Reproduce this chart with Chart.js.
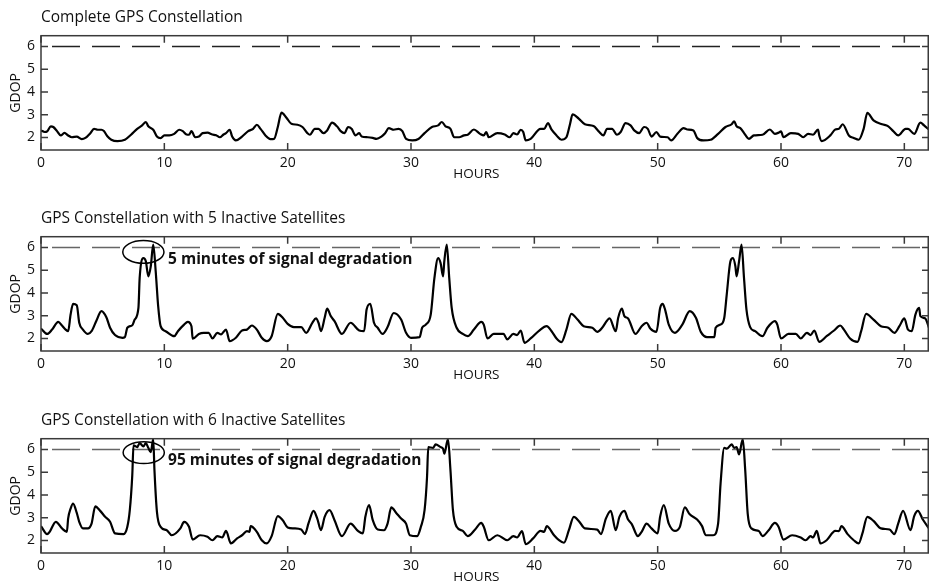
<!DOCTYPE html>
<html>
<head>
<meta charset="utf-8">
<title>GDOP</title>
<script src="https://cdn.jsdelivr.net/npm/chart.js@4.4.1/dist/chart.umd.min.js"></script>
<style>
    html, body { margin: 0; padding: 0; background: #fff; overflow: hidden; }
    body { width: 929px; height: 584px; position: relative; }
    canvas { position: absolute; left: 0; }
</style>
</head>
<body>
<canvas id="panel1" width="929" height="195" style="top:0px"></canvas>
<canvas id="panel2" width="929" height="195" style="top:201px"></canvas>
<canvas id="panel3" width="929" height="195" style="top:403px"></canvas>
<script>
// Axis ticks and threshold
const xTicks = [0, 10, 20, 30, 40, 50, 60, 70];
const yTicks = [2, 3, 4, 5, 6];
const threshold = 6;

// Complete constellation
const hours1 = [
    0, 0.3, 0.5, 0.8, 1.0, 1.3, 1.6, 1.9, 2.2, 2.5,
    2.9, 3.3, 3.6, 4.0, 4.3, 4.6, 4.9, 5.1, 5.4, 5.7,
    6.2, 6.8, 7.3, 7.8, 8.2, 8.5, 8.7, 9.1, 9.4, 9.7,
    10.0, 10.4, 10.8, 11.2, 11.5, 11.8, 12.0, 12.2, 12.5, 12.8,
    13.1, 13.5, 13.9, 14.2, 14.5, 14.8, 15.0, 15.3, 15.5, 15.8,
    16.3, 16.8, 17.2, 17.5, 17.8, 18.2, 18.6, 18.9, 19.2, 19.5,
    19.9, 20.3, 20.8, 21.2, 21.6, 21.8, 22.2, 22.5, 22.9, 23.2,
    23.6, 24.0, 24.3, 24.6, 24.9, 25.2, 25.5, 25.8, 26.0, 26.5,
    26.9, 27.2, 27.6, 27.9, 28.2, 28.6, 29.0, 29.3, 29.6, 30.1,
    30.6, 31.1, 31.7, 32.2, 32.5, 32.8, 33.2, 33.5, 33.9, 34.3,
    34.6, 35.1, 35.6, 35.9, 36.1, 36.3, 37.0, 37.6, 38.0, 38.3,
    38.6, 38.9, 39.1, 39.3, 39.7, 40.5, 40.8, 41.1, 41.4, 41.8,
    42.2, 42.6, 42.9, 43.1, 43.6, 44.1, 44.8, 45.2, 45.6, 45.9,
    46.3, 46.7, 47.0, 47.4, 47.8, 48.1, 48.5, 48.9, 49.2, 49.5,
    49.9, 50.2, 50.8, 51.1, 51.6, 52.1, 52.4, 52.9, 53.2, 53.7,
    54.3, 54.9, 55.5, 56.0, 56.2, 56.4, 56.7, 57.1, 57.4, 57.8,
    58.5, 59.1, 59.5, 59.8, 60.0, 60.2, 60.8, 61.4, 61.8, 62.2,
    62.6, 63.0, 63.1, 63.3, 64.0, 64.4, 64.7, 65.0, 65.5, 65.9,
    66.3, 66.7, 67.0, 67.5, 68.2, 68.7, 69.1, 69.5, 70.1, 70.3,
    70.8, 71.3, 71.6, 72.0
];
const gdop1 = [
    2.31, 2.24, 2.27, 2.49, 2.46, 2.28, 2.09, 2.20, 2.09, 2.01,
    2.04, 1.93, 1.98, 2.19, 2.38, 2.34, 2.34, 2.28, 2.04, 1.90,
    1.84, 1.90, 2.12, 2.38, 2.53, 2.68, 2.49, 2.34, 2.04, 1.97,
    2.09, 2.09, 2.16, 2.34, 2.28, 2.13, 2.12, 2.28, 2.01, 2.04,
    2.19, 2.21, 2.13, 2.10, 2.01, 2.13, 2.19, 2.34, 2.04, 1.87,
    2.04, 2.28, 2.38, 2.56, 2.38, 2.09, 1.93, 1.94, 2.46, 3.09,
    2.87, 2.60, 2.56, 2.46, 2.19, 2.12, 2.38, 2.38, 2.19, 2.31,
    2.65, 2.49, 2.28, 2.19, 2.46, 2.37, 2.09, 2.19, 2.04, 2.01,
    1.98, 1.94, 2.04, 2.19, 2.41, 2.34, 2.38, 2.28, 1.94, 1.87,
    1.93, 2.19, 2.46, 2.53, 2.68, 2.49, 2.38, 2.01, 2.01, 2.09,
    2.12, 2.35, 2.16, 2.09, 2.24, 2.01, 2.19, 2.13, 2.01, 2.19,
    2.13, 2.34, 2.24, 1.87, 1.94, 2.38, 2.38, 2.63, 2.34, 2.09,
    1.90, 2.01, 2.60, 3.02, 2.83, 2.58, 2.50, 2.28, 2.09, 2.38,
    2.38, 2.12, 2.24, 2.63, 2.53, 2.31, 2.19, 2.46, 2.38, 2.04,
    2.24, 2.04, 2.01, 1.87, 2.16, 2.41, 2.35, 2.31, 1.98, 1.87,
    1.90, 2.16, 2.46, 2.58, 2.71, 2.49, 2.41, 2.12, 1.94, 2.09,
    2.12, 2.35, 2.16, 2.21, 2.27, 2.01, 2.19, 2.16, 2.01, 2.16,
    2.12, 2.35, 2.09, 1.84, 2.09, 2.35, 2.38, 2.58, 2.09, 1.98,
    1.90, 2.38, 3.08, 2.75, 2.58, 2.49, 2.28, 2.09, 2.38, 2.38,
    2.16, 2.65, 2.53, 2.34
];

// 5 inactive satellites
const hours2 = [
    0, 0.5, 0.9, 1.4, 1.7, 2.0, 2.2, 2.4, 2.6, 2.9,
    3.1, 3.4, 3.8, 4.1, 4.5, 4.9, 5.3, 5.6, 6.0, 6.6,
    6.8, 7.0, 7.4, 7.6, 7.9, 8.0, 8.3, 8.5, 8.7, 8.9,
    9.1, 9.3, 9.5, 9.7, 10.1, 10.8, 11.1, 11.6, 11.9, 12.2,
    12.3, 12.8, 13.2, 13.6, 13.9, 14.3, 14.6, 15.0, 15.3, 15.8,
    16.3, 16.7, 17.1, 17.5, 17.9, 18.3, 18.7, 19.2, 19.6, 20.0,
    20.5, 21.1, 21.5, 22.0, 22.3, 22.5, 22.7, 23.0, 23.2, 23.5,
    23.8, 24.4, 25.1, 25.8, 26.2, 26.4, 26.7, 27.0, 27.3, 27.7,
    28.1, 28.6, 29.2, 29.6, 30.0, 30.7, 30.9, 31.2, 31.6, 31.9,
    32.2, 32.4, 32.6, 32.7, 32.9, 33.1, 33.3, 33.7, 34.2, 34.6,
    35.1, 35.7, 35.9, 36.2, 36.7, 37.5, 37.8, 38.3, 38.6, 38.9,
    39.2, 39.7, 40.4, 41.0, 41.4, 41.8, 42.2, 42.6, 43.0, 43.5,
    44.0, 44.7, 45.1, 45.5, 45.9, 46.1, 46.6, 46.8, 47.1, 47.3,
    47.6, 48.2, 48.7, 49.1, 49.4, 49.9, 50.2, 50.4, 50.6, 50.9,
    51.4, 52.0, 52.6, 53.1, 53.5, 54.0, 54.6, 54.7, 55.1, 55.4,
    55.6, 55.9, 56.1, 56.3, 56.4, 56.6, 56.8, 57.0, 57.2, 57.5,
    57.9, 58.5, 58.9, 59.5, 59.7, 60.0, 60.6, 61.2, 61.6, 62.1,
    62.4, 62.7, 63.1, 63.7, 64.3, 64.8, 65.1, 65.6, 66.2, 66.5,
    66.9, 67.5, 68.1, 68.7, 69.2, 69.6, 70.0, 70.3, 70.6, 70.9,
    71.2, 71.3, 71.7, 72.0
];
const gdop2 = [
    2.44, 2.20, 2.39, 2.73, 2.57, 2.39, 2.32, 3.05, 3.52, 3.46,
    2.69, 2.39, 2.20, 2.32, 2.79, 3.20, 2.93, 2.47, 2.15, 2.03,
    2.06, 2.47, 2.58, 2.83, 3.34, 4.66, 5.53, 5.39, 4.73, 5.17,
    6.12, 4.95, 3.42, 2.54, 2.32, 2.10, 2.32, 2.61, 2.73, 2.54,
    1.99, 2.20, 2.25, 2.25, 2.00, 2.25, 2.18, 2.39, 1.88, 2.03,
    2.35, 2.39, 2.57, 2.39, 2.03, 1.88, 2.10, 3.08, 2.91, 2.64,
    2.50, 2.50, 2.25, 2.69, 2.88, 2.69, 2.32, 2.91, 3.31, 2.98,
    2.76, 2.20, 2.69, 2.35, 2.32, 3.27, 3.52, 2.69, 2.47, 2.20,
    2.50, 3.12, 2.83, 2.25, 2.03, 2.06, 2.47, 2.61, 3.05, 4.66,
    5.53, 5.31, 4.73, 5.39, 6.12, 4.66, 3.34, 2.47, 2.20, 2.10,
    2.39, 2.73, 2.61, 2.00, 2.20, 2.20, 1.96, 2.20, 2.15, 2.35,
    1.81, 2.00, 2.35, 2.54, 2.32, 2.00, 1.84, 2.39, 3.08, 2.83,
    2.54, 2.47, 2.29, 2.47, 2.79, 2.88, 2.32, 2.91, 3.31, 2.98,
    2.88, 2.20, 2.54, 2.69, 2.44, 2.29, 3.34, 3.52, 3.27, 2.61,
    2.25, 2.61, 3.20, 2.91, 2.29, 2.06, 2.06, 2.47, 2.61, 2.91,
    3.93, 5.39, 5.53, 5.17, 4.73, 5.39, 6.12, 4.66, 3.27, 2.50,
    2.32, 2.10, 2.47, 2.76, 2.61, 2.00, 2.20, 2.20, 2.00, 2.25,
    2.15, 2.35, 1.85, 2.10, 2.35, 2.57, 2.39, 2.00, 1.85, 2.32,
    3.08, 2.83, 2.54, 2.47, 2.25, 2.54, 2.88, 2.39, 2.32, 3.05,
    3.34, 2.98, 2.88, 2.47
];

// 6 inactive satellites
const hours3 = [
    0, 0.5, 0.7, 1.2, 1.7, 2.1, 2.2, 2.4, 2.6, 2.9,
    3.1, 3.4, 3.8, 4.1, 4.4, 4.8, 5.2, 5.6, 6.0, 6.7,
    7.0, 7.2, 7.4, 7.5, 7.8, 8.0, 8.3, 8.5, 8.7, 8.9,
    9.1, 9.2, 9.4, 9.7, 10.2, 10.6, 11.3, 11.6, 12.0, 12.3,
    12.9, 13.5, 13.9, 14.3, 14.7, 15.0, 15.4, 15.9, 16.3, 16.7,
    16.9, 17.0, 17.5, 17.9, 18.3, 18.7, 19.2, 19.6, 20.0, 20.5,
    21.1, 21.4, 21.7, 22.1, 22.4, 22.7, 23.0, 23.4, 23.8, 24.4,
    25.1, 25.7, 26.1, 26.3, 26.6, 26.9, 27.3, 27.8, 28.1, 28.4,
    28.8, 29.2, 29.6, 29.9, 30.5, 30.8, 31.1, 31.3, 31.4, 31.8,
    32.0, 32.4, 32.6, 32.7, 33.0, 33.2, 33.4, 33.7, 34.2, 34.6,
    35.2, 35.7, 35.9, 36.3, 37.0, 37.8, 38.3, 38.6, 39.0, 39.3,
    39.9, 40.5, 40.8, 41.0, 41.6, 42.0, 42.4, 42.8, 43.2, 43.6,
    44.1, 45.1, 45.4, 45.8, 46.2, 46.6, 46.9, 47.3, 47.6, 47.9,
    48.4, 48.7, 49.1, 49.5, 50.0, 50.2, 50.5, 50.9, 51.4, 51.8,
    52.2, 52.6, 53.2, 53.6, 53.9, 54.5, 54.9, 55.1, 55.4, 55.6,
    56.0, 56.2, 56.4, 56.6, 56.9, 57.1, 57.3, 57.6, 58.2, 58.5,
    59.0, 59.5, 59.8, 60.2, 60.9, 61.6, 62.0, 62.4, 62.6, 62.9,
    63.2, 63.7, 64.4, 64.7, 64.9, 65.4, 65.9, 66.3, 66.6, 67.0,
    67.5, 68.1, 68.8, 69.2, 69.5, 69.9, 70.5, 70.8, 71.1, 71.5,
    72.0
];
const gdop3 = [
    2.63, 2.28, 2.38, 2.82, 2.53, 2.38, 2.96, 3.40, 3.62, 3.21,
    2.82, 2.53, 2.53, 2.74, 3.50, 3.30, 3.04, 2.82, 2.31, 2.28,
    2.60, 3.33, 4.86, 6.18, 6.10, 6.28, 6.13, 6.28, 6.07, 5.88,
    6.45, 5.08, 3.26, 2.60, 2.45, 2.23, 2.53, 2.82, 2.60, 2.04,
    2.23, 2.16, 2.01, 2.19, 2.13, 2.42, 1.87, 2.09, 2.23, 2.41,
    2.38, 2.63, 2.38, 2.01, 1.87, 2.19, 3.07, 2.89, 2.57, 2.53,
    2.48, 2.28, 2.77, 3.30, 2.96, 2.45, 3.04, 3.33, 2.89, 2.19,
    2.74, 2.42, 2.31, 3.04, 3.55, 2.89, 2.48, 2.45, 2.74, 3.45,
    3.21, 2.96, 2.74, 2.23, 2.19, 2.60, 3.33, 4.79, 6.10, 6.07,
    6.22, 6.10, 6.03, 5.81, 6.45, 5.08, 3.33, 2.60, 2.42, 2.19,
    2.48, 2.77, 2.60, 2.01, 2.23, 2.01, 2.19, 2.13, 2.41, 1.84,
    2.09, 2.42, 2.38, 2.63, 2.23, 2.01, 1.90, 2.45, 3.04, 2.86,
    2.53, 2.48, 2.28, 2.96, 3.30, 2.45, 3.04, 3.30, 2.92, 2.72,
    2.19, 2.38, 2.74, 2.53, 2.31, 3.04, 3.55, 2.74, 2.42, 2.60,
    3.45, 3.15, 2.92, 2.63, 2.23, 2.23, 2.74, 4.50, 6.07, 6.03,
    6.22, 6.07, 6.10, 5.78, 6.45, 5.08, 3.18, 2.53, 2.42, 2.19,
    2.45, 2.77, 2.60, 2.04, 2.23, 2.13, 2.01, 2.19, 2.13, 2.42,
    1.87, 2.01, 2.42, 2.41, 2.63, 2.28, 2.01, 1.87, 2.31, 3.04,
    2.86, 2.53, 2.48, 2.28, 2.74, 3.30, 2.45, 3.07, 3.30, 2.92,
    2.53
];

const titles = [
    'Complete GPS Constellation',
    'GPS Constellation with 5 Inactive Satellites',
    'GPS Constellation with 6 Inactive Satellites'
];
const notes = [
    null,
    '5 minutes of signal degradation',
    '95 minutes of signal degradation'
];
const xLabel = 'HOURS';

const FONT = "'Open Sans', 'Noto Sans', 'DejaVu Sans', sans-serif";
Chart.defaults.font.family = FONT;
Chart.defaults.color = '#111';

// frame, inward ticks, x label and the degradation note
const framePlugin = {
    id: 'frame',
    afterDatasetsDraw(chart, args, opts) {
        const {ctx, chartArea: a, scales} = chart;
        const tl = 7;
        ctx.save();
        ctx.strokeStyle = '#3a3a3a';
        ctx.lineWidth = 1.5;
        ctx.beginPath();
        scales.x.ticks.forEach(t => {
            const px = scales.x.getPixelForValue(t.value);
            ctx.moveTo(px, a.bottom); ctx.lineTo(px, a.bottom - tl);
            ctx.moveTo(px, a.top); ctx.lineTo(px, a.top + tl);
        });
        scales.y.ticks.forEach(t => {
            const py = scales.y.getPixelForValue(t.value);
            ctx.moveTo(a.left, py); ctx.lineTo(a.left + tl, py);
            ctx.moveTo(a.right, py); ctx.lineTo(a.right - tl, py);
        });
        ctx.stroke();
        ctx.strokeRect(a.left, a.top, a.right - a.left - 0.75, a.bottom - a.top);

        // axis label sits a little left of centre, as in the original
        ctx.fillStyle = '#111';
        ctx.font = '13.5px ' + FONT;
        ctx.textAlign = 'center';
        ctx.textBaseline = 'middle';
        ctx.fillText(xLabel, scales.x.getPixelForValue(opts.xLabelAt), a.bottom + 24);

        if (opts.note) {
            const n = opts.note;
            const cx = scales.x.getPixelForValue(n.cx);
            const cy = scales.y.getPixelForValue(n.cy);
            const rx = Math.abs(scales.x.getPixelForValue(n.cx + n.rx) - cx);
            const ry = Math.abs(scales.y.getPixelForValue(n.cy + n.ry) - cy);
            ctx.strokeStyle = '#000';
            ctx.lineWidth = 1.5;
            ctx.beginPath();
            ctx.ellipse(cx, cy, rx, ry, 0, 0, Math.PI * 2);
            ctx.stroke();
            ctx.font = 'bold 15.5px ' + FONT;
            ctx.textAlign = 'left';
            ctx.fillText(n.text, scales.x.getPixelForValue(n.tx), scales.y.getPixelForValue(n.ty));
        }
        ctx.restore();
    }
};

function makePanel(id, title, hours, gdop, note, dashColor) {
    const points = hours.map((h, i) => ({x: h, y: gdop[i]}));
    return new Chart(document.getElementById(id), {
        type: 'line',
        data: {
            datasets: [{
                data: points,
                borderColor: '#000',
                borderWidth: 2.2,
                pointRadius: 0,
                cubicInterpolationMode: 'monotone',
                order: 1
            }, {
                data: [{x: 0, y: threshold}, {x: 72, y: threshold}],
                borderColor: dashColor,
                borderWidth: 1.5,
                borderDash: [28, 12],
                borderDashOffset: 29,
                pointRadius: 0,
                order: 2
            }]
        },
        options: {
            responsive: false,
            devicePixelRatio: 1,
            animation: false,
            events: [],
            layout: { padding: 0 },
            plugins: {
                legend: { display: false },
                tooltip: { enabled: false },
                title: {
                    display: true,
                    text: title,
                    align: 'start',
                    fullSize: false,
                    color: '#111',
                    font: { size: 15.5, weight: 'normal', lineHeight: 1.2 },
                    padding: { top: 8.4, bottom: 8.7 }
                },
                frame: { note: note, xLabelAt: 35.3 }
            },
            scales: {
                x: {
                    type: 'linear',
                    min: 0,
                    max: 72,
                    afterBuildTicks: s => { s.ticks = xTicks.map(v => ({value: v})); },
                    afterFit: s => { s.height = 45; },
                    grid: { display: false, drawTicks: false },
                    border: { display: false },
                    ticks: { padding: 5, font: { size: 14 }, color: '#111', maxRotation: 0 },
                    title: { display: false }
                },
                y: {
                    min: 1.45,
                    max: 6.47,
                    afterBuildTicks: s => { s.ticks = yTicks.map(v => ({value: v})); },
                    afterFit: s => { s.width = 41; },
                    grid: { display: false, drawTicks: false },
                    border: { display: false },
                    ticks: { padding: 6, font: { size: 14 }, color: '#111' },
                    title: {
                        display: true,
                        text: 'GDOP',
                        color: '#111',
                        font: { size: 14 },
                        padding: { top: 7.6, bottom: 0 }
                    }
                }
            }
        },
        plugins: [framePlugin]
    });
}

makePanel('panel1', titles[0], hours1, gdop1, null, '#222');
makePanel('panel2', titles[1], hours2, gdop2,
    { text: notes[1], cx: 8.3, cy: 5.8, rx: 1.67, ry: 0.5, tx: 10.3, ty: 5.45 }, '#666');
makePanel('panel3', titles[2], hours3, gdop3,
    { text: notes[2], cx: 8.33, cy: 5.86, rx: 1.67, ry: 0.48, tx: 10.3, ty: 5.5 }, '#666');
</script>
</body>
</html>
